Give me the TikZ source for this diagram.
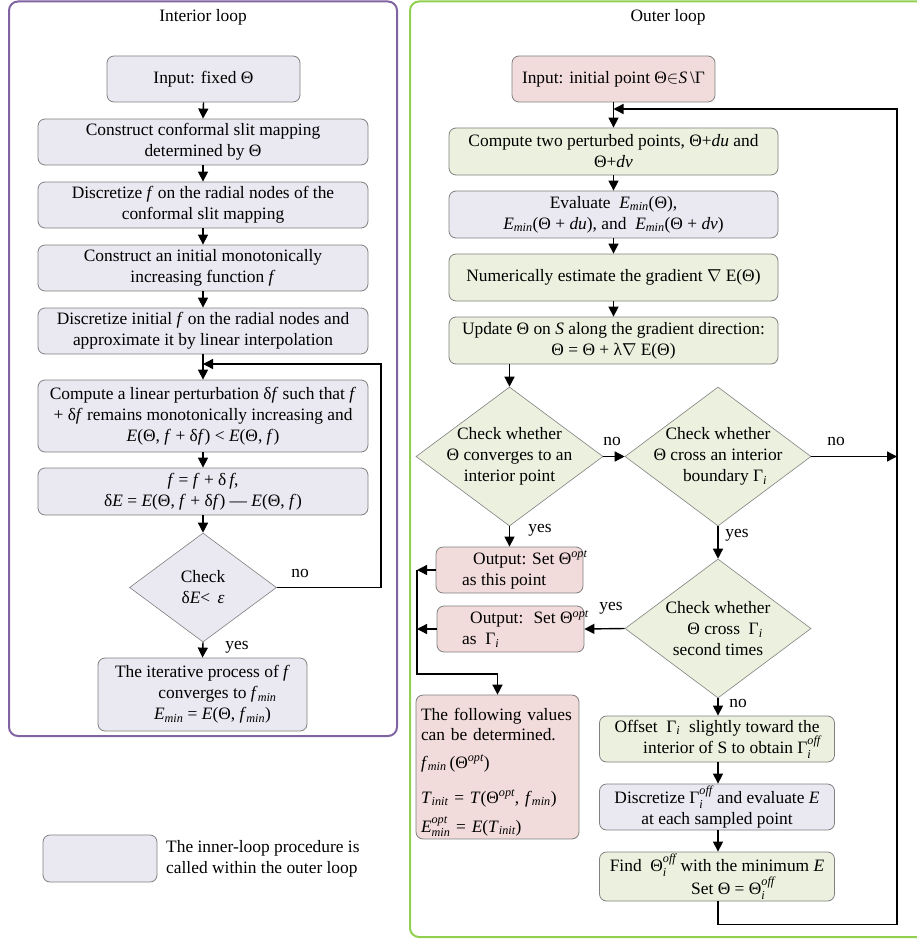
\documentclass[tikz,border=0pt]{standalone}
\usepackage{fontspec}
\usepackage{amsmath}
\setmainfont{Liberation Serif}
\usetikzlibrary{arrows.meta,shapes.geometric}
\definecolor{lav}{HTML}{EAE8F0}
\definecolor{grn}{HTML}{EBF1DE}
\definecolor{pnk}{HTML}{F2DCDB}
\definecolor{bgray}{HTML}{808080}
\definecolor{purp}{HTML}{8064A2}
\definecolor{lgrn}{HTML}{92D050}
\newcommand{\vi}[1]{\textit{#1}}
\newcommand{\mysub}[1]{$_{\text{\itshape #1}}$}
\newcommand{\mysup}[1]{$^{\text{\itshape #1}}$}
\newcommand{\mysubsup}[2]{$^{\text{\itshape #1}}_{\text{\itshape #2}}$}
\begin{document}
\begin{tikzpicture}[x=1pt,y=-1pt,font=\fontsize{17.4}{21}\selectfont,
  box/.style={draw=bgray,line width=0.8pt,rounded corners=7pt,align=center,inner sep=2pt},
  lavbox/.style={box,fill=lav},
  grnbox/.style={box,fill=grn},
  pnkbox/.style={box,fill=pnk},
  dia/.style={diamond,draw=bgray,line width=0.6pt,inner sep=0pt,align=center},
  txt/.style={align=center,inner sep=0pt},
  arr/.style={line width=1.4pt,-{Triangle[length=10pt,width=10pt]}},
  lbl/.style={inner sep=1pt},
  frame/.style={line width=2pt,rounded corners=9pt}]
\clip (0,0) rectangle (917,939);
% frames
\draw[purp,frame] (9,1.5) rectangle (397,736);
\draw[lgrn,frame] (410,1.5) rectangle (940,937);
\node (T1) at (203,17) {Interior loop};
\node (T2) at (668,17) {Outer loop};
% ---------- interior loop
\node[lavbox,minimum width=193pt,minimum height=46pt] (L1) at (203.5,79) {Input: fixed Θ};
\node[lavbox,minimum width=330pt,minimum height=46pt] (L2) at (203,142) {Construct conformal slit mapping\\determined by Θ};
\node[lavbox,minimum width=330pt,minimum height=46pt] (L3) at (203,205) {Discretize \vi{f} on the radial nodes of the\\conformal slit mapping};
\node[lavbox,minimum width=330pt,minimum height=46pt] (L4) at (203,268) {Construct an initial monotonically\\increasing function \vi{f}};
\node[lavbox,minimum width=330pt,minimum height=46pt] (L5) at (203,331) {Discretize initial \vi{f} on the radial nodes and\\approximate it by linear interpolation};
\node[lavbox,minimum width=330pt,minimum height=72pt] (L6) at (203,416) {Compute a linear perturbation δ\vi{f} such that \vi{f}\\+ δ\vi{f} remains monotonically increasing and\\\vi{E}(Θ, \vi{f} + δ\vi{f}) < \vi{E}(Θ, \vi{f})};
\node[lavbox,minimum width=330pt,minimum height=47pt] (L7) at (203,491.5) {\vi{f} = \vi{f} + δ\,\vi{f},\\δ\vi{E} = \vi{E}(Θ, \vi{f} + δ\vi{f}) — \vi{E}(Θ, \vi{f})};
\node[dia,fill=lav,minimum width=147pt,minimum height=109pt] (L8) at (203,587.5) {Check\\δ\vi{E}< \,\vi{ε}};
\node[lavbox,minimum width=209pt,minimum height=73pt] (L9) at (202.5,694.5) {The iterative process of \vi{f}\\\hspace*{30pt}converges to \vi{f}\mysub{min}\\\hspace*{20pt}\vi{E}\mysub{min} = \vi{E}(Θ, \vi{f}\mysub{min})};
\coordinate (LJ) at (203,364);
\draw[arr] (L1.south) -- (L2.north);
\draw[arr] (L2.south) -- (L3.north);
\draw[arr] (L3.south) -- (L4.north);
\draw[arr] (L4.south) -- (L5.north);
\draw[arr] (L5.south) -- (L6.north);
\draw[arr] (L6.south) -- (L7.north);
\draw[arr] (L7.south) -- (L8.north);
\draw[arr] (L8.south) -- (L9.north);
\draw[arr] (L8.east) -- ++(104,0) |- (LJ);
\node[lbl] (Ln) at (300,573) {no};
\node[lbl] (Ly) at (237,647) {yes};
% legend
\node[lavbox,minimum width=114pt,minimum height=47pt] (LG) at (100,858.5) {};
\node[anchor=west,align=left,inner sep=3pt] (LGt) at (163,858.5) {The inner-loop procedure is\\called within the outer loop};
% ---------- outer loop
\node[pnkbox,minimum width=203pt,minimum height=46pt] (R1) at (613.5,79) {Input: initial point Θ$\in$\vi{S}\,\textbackslash Γ};
\node[grnbox,minimum width=329pt,minimum height=47pt] (R2) at (613.5,151.5) {Compute two perturbed points, Θ+\vi{du} and\\Θ+\vi{dv}};
\node[lavbox,minimum width=329pt,minimum height=47pt] (R3) at (613.5,214.5) {Evaluate \ \vi{E}\mysub{min}(Θ),\\\vi{E}\mysub{min}(Θ + \vi{du}), and \ \vi{E}\mysub{min}(Θ + \vi{dv})};
\node[grnbox,minimum width=329pt,minimum height=47pt] (R4) at (613.5,277.5) {Numerically estimate the gradient $\nabla$ E(Θ)};
\node[grnbox,minimum width=329pt,minimum height=47pt] (R5) at (613.5,340.5) {Update Θ on \vi{S} along the gradient direction:\\Θ = Θ + λ$\nabla$ E(Θ)};
\node[dia,fill=grn,minimum width=187pt,minimum height=139pt] (D1) at (509.5,456.5) {};
\node[txt] (D1t) at (D1.center) {Check whether\\Θ converges to an\\interior point};
\node[dia,fill=grn,minimum width=186pt,minimum height=139pt] (D2) at (718,456.5) {};
\node[txt] (D2t) at (D2.center) {Check whether\\Θ cross an interior\\\hspace*{14pt}boundary Γ\mysub{i}};
\node[pnkbox,minimum width=147pt,minimum height=46pt] (O1) at (509.5,570) {};
\node[txt,anchor=west,align=left] (O1t) at (462,570) {\hspace*{11pt}Output: Set Θ\mysup{opt}\\as this point};
\node[dia,fill=grn,minimum width=186pt,minimum height=139pt] (D3) at (718,628.5) {};
\node[txt] (D3t) at (D3.center) {Check whether\\\hspace*{14pt}Θ cross \ Γ\mysub{i}\\second times};
\node[pnkbox,minimum width=147pt,minimum height=46pt] (O2) at (510.5,629) {};
\node[txt,anchor=west,align=left] (O2t) at (462,629) {\hspace*{8pt}Output: \ Set Θ\mysup{opt}\\as \ Γ\mysub{i}};
\node[pnkbox,minimum width=163pt,minimum height=140pt,align=left,text width=153pt,inner xsep=5pt] (V) at (497.5,767) {\rule{0pt}{23pt}The following values\\[-1pt]can be determined.\\[7pt]\vi{f}\mysub{min}\,(Θ\mysup{opt})\\[14pt]\vi{T}\mysub{init} = \vi{T}(Θ\mysup{opt}, \vi{f}\mysub{min})\\[8pt]\vi{E}\mysubsup{opt}{min} = \vi{E}(\vi{T}\mysub{init})};
\node[grnbox,minimum width=235pt,minimum height=46pt] (OF) at (717,739) {Offset \ Γ\mysub{i} \ slightly toward the\\\hspace*{30pt}interior of S to obtain Γ\mysubsup{off}{i}};
\node[lavbox,minimum width=235pt,minimum height=46pt] (DI) at (717,807) {Discretize Γ\mysubsup{off}{i} and evaluate \vi{E}\\at each sampled point};
\node[grnbox,minimum width=235pt,minimum height=47pt] (FI) at (717,876.5) {Find \ Θ\mysubsup{off}{i} with the minimum \vi{E}\\\hspace*{32pt}Set Θ = Θ\mysubsup{off}{i}};
% connectors
\coordinate (RJ) at (613.5,109);
\coordinate (RC) at (897,109);
\coordinate (RE) at (897,456.5);
\coordinate (OL1) at (417,570);
\coordinate (OL2) at (417,629);
\draw[arr] (R1.south) -- (R2.north);
\draw[arr] (R2.south) -- (R3.north);
\draw[arr] (R3.south) -- (R4.north);
\draw[arr] (R4.south) -- (R5.north);
\draw[arr] (R5.south -| D1.north) -- (D1.north);
\draw[arr] (D1.east) -- (D2.west);
\draw[arr] (D2.east) -- (RE);
\draw[arr] (D1.south) -- (O1.north);
\draw[arr] (D2.south) -- (D3.north);
\draw[arr] (D3.west) -- (O2.east);
\draw[arr] (O1.west) -- (OL1);
\draw[arr] (O2.west) -- (OL2);
\draw[arr] (OL1) -- ++(0,104) -| (V.north);
\draw[arr] (D3.south) -- (D3.south |- OF.north);
\draw[arr] (OF.south -| D3.south) -- (DI.north -| D3.south);
\draw[arr] (DI.south -| D3.south) -- (FI.north -| D3.south);
\draw[arr] (FI.south -| D3.south) -- ++(0,23) -| (RC) -- (RJ);
\node[lbl] (n1) at (612,441) {no};
\node[lbl] (n2) at (836,441) {no};
\node[lbl] (y1) at (540,530) {yes};
\node[lbl] (y2) at (737,535) {yes};
\node[lbl] (y3) at (611,608) {yes};
\node[lbl] (n3) at (738,703) {no};
\end{tikzpicture}
\end{document}
